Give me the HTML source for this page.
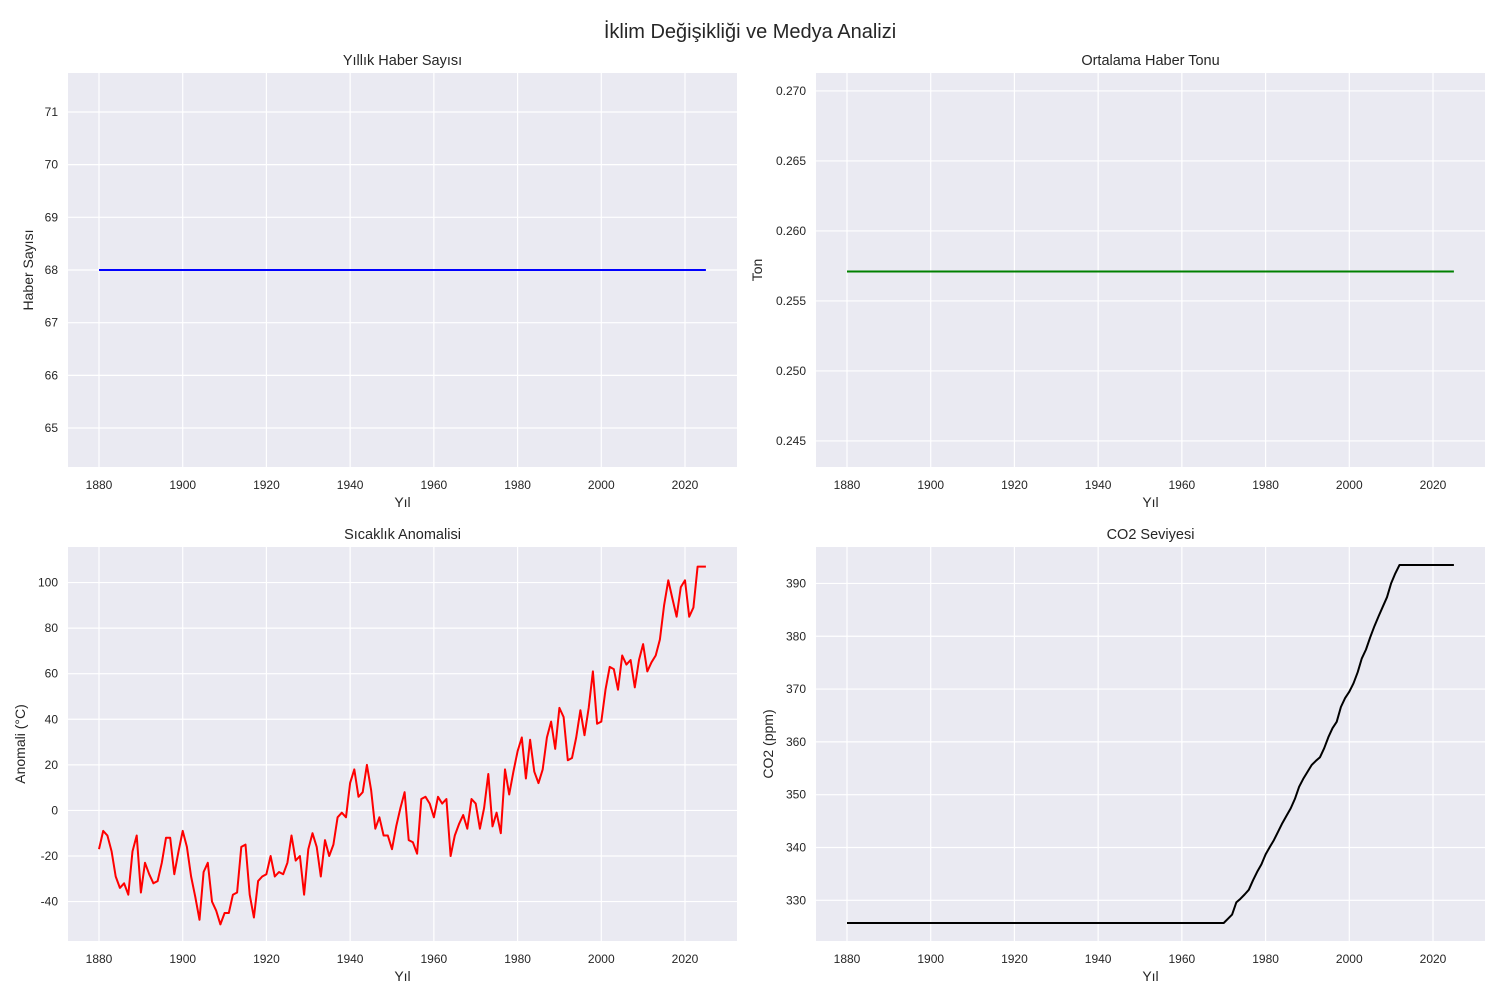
<!DOCTYPE html>
<html><head><meta charset="utf-8">
<style>
body{margin:0;background:#fff;width:1500px;height:1000px;overflow:hidden}
svg text{font-family:"Liberation Sans","DejaVu Sans",sans-serif;fill:#262626}
</style></head>
<body>
<svg id="fig" width="1500" height="1000" xmlns="http://www.w3.org/2000/svg">
<text x="750" y="38" text-anchor="middle" font-size="20">İklim Değişikliği ve Medya Analizi</text>
</svg>
<script>
const years = [];
for (let y = 1880; y <= 2025; y++) years.push(y);
const newsCount = years.map(() => 68);
const newsTone = years.map(() => 0.2571);
const tempAnomaly = [-17,-9,-11,-18,-29,-34,-32,-37,-18,-11,-36,-23,-28,-32,-31,-23,-12,-12,-28,-18,
-9,-16,-29,-38,-48,-27,-23,-40,-44,-50,-45,-45,-37,-36,-16,-15,-37,-47,-31,-29,
-28,-20,-29,-27,-28,-23,-11,-22,-20,-37,-17,-10,-16,-29,-13,-20,-15,-3,-1,-3,
12,18,6,8,20,9,-8,-3,-11,-11,-17,-7,1,8,-13,-14,-19,5,6,3,
-3,6,3,5,-20,-11,-6,-2,-8,5,3,-8,1,16,-7,-1,-10,18,7,17,
26,32,14,31,17,12,18,32,39,27,45,41,22,23,32,44,33,45,61,38,
39,53,63,62,53,68,64,66,54,66,73,61,65,68,75,90,101,93,85,98,
101,85,89,107,107,107];
const co2Rise = [325.7,326.5,327.3,329.6,330.3,331.1,332,333.8,335.4,336.8,338.7,340.1,341.4,343.0,344.6,346.0,347.4,349.2,351.5,353.0,354.3,355.6,356.4,357.1,358.8,360.9,362.6,363.8,366.6,368.3,369.5,371.1,373.2,375.8,377.5,379.8,381.9,383.8,385.6,387.4,390.0,391.9,393.5];
const co2 = years.map(y => y < 1970 ? 325.7 : (y - 1970 < co2Rise.length ? co2Rise[y - 1970] : 393.5));
const xTicks = [1880,1900,1920,1940,1960,1980,2000,2020];
const ticks1 = [65,66,67,68,69,70,71];
const ticks2 = [0.245,0.250,0.255,0.260,0.265,0.270];
const ticks3 = [-40,-20,0,20,40,60,80,100];
const ticks4 = [330,340,350,360,370,380,390];

const NS = "http://www.w3.org/2000/svg";
const svg = document.getElementById('fig');
function el(tag, attrs, parent) {
  const e = document.createElementNS(NS, tag);
  for (const k in attrs) e.setAttribute(k, attrs[k]);
  (parent || svg).appendChild(e);
  return e;
}
function panel(name, L, T, W, H, ymin, ymax, yTicks, fmt, vals, color, title, ylabel, lx) {
  const g = el('g', {});
  
  
  const bg = el('rect', {x:L, y:T, width:W, height:H, fill:'#eaeaf2'}, g);
  
  
  const xs = x => L + 31 + (x - 1880) * (586 / 140);
  const ys = v => T + H - (v - ymin) / (ymax - ymin) * H;
  xTicks.forEach(t => {
    const l = el('line', {x1:xs(t), x2:xs(t), y1:T, y2:T+H, stroke:'#fff', 'stroke-width':1.2}, g);
    
    
    const tx = el('text', {x:xs(t), y:T+H+22, 'text-anchor':'middle', 'font-size':12}, g);
    tx.textContent = t;
    
    
  });
  yTicks.forEach(t => {
    const l = el('line', {x1:L, x2:L+W, y1:ys(t), y2:ys(t), stroke:'#fff', 'stroke-width':1.2}, g);
    
    
    const tx = el('text', {x:L-10, y:ys(t)+4, 'text-anchor':'end', 'font-size':12}, g);
    tx.textContent = fmt(t);
    
    
  });
  const p = el('polyline', {points: years.map((y,i) => xs(y).toFixed(1)+','+ys(vals[i]).toFixed(1)).join(' '), fill:'none', stroke:color, 'stroke-width':2, 'stroke-linejoin':'round'}, g);
  
  
  const tt = el('text', {x:L+W/2, y:T-8, 'text-anchor':'middle', 'font-size':14.5}, g);
  tt.textContent = title;
  
  
  const xl = el('text', {x:L+W/2, y:T+H+40, 'text-anchor':'middle', 'font-size':14}, g);
  xl.textContent = 'Yıl';
  
  
  const yl = el('text', {x:lx, y:T+H/2, 'text-anchor':'middle', 'font-size':14, transform:'rotate(-90 '+lx+' '+(T+H/2)+')'}, g);
  yl.textContent = ylabel;
  
  
}
panel('panel-news-count', 68, 73, 669, 394, 64.26, 71.74, ticks1, v => v, newsCount, '#0000ff', 'Yıllık Haber Sayısı', 'Haber Sayısı', 33);
panel('panel-news-tone', 816, 73, 669, 394, 0.24314, 0.27128, ticks2, v => v.toFixed(3), newsTone, '#008000', 'Ortalama Haber Tonu', 'Ton', 762);
panel('panel-temperature', 68, 547, 669, 394, -57.3, 115.6, ticks3, v => v, tempAnomaly, '#ff0000', 'Sıcaklık Anomalisi', 'Anomali (°C)', 25);
panel('panel-co2', 816, 547, 669, 394, 322.3, 396.9, ticks4, v => v, co2, '#000000', 'CO2 Seviyesi', 'CO2 (ppm)', 773);
</script>
</body></html>
